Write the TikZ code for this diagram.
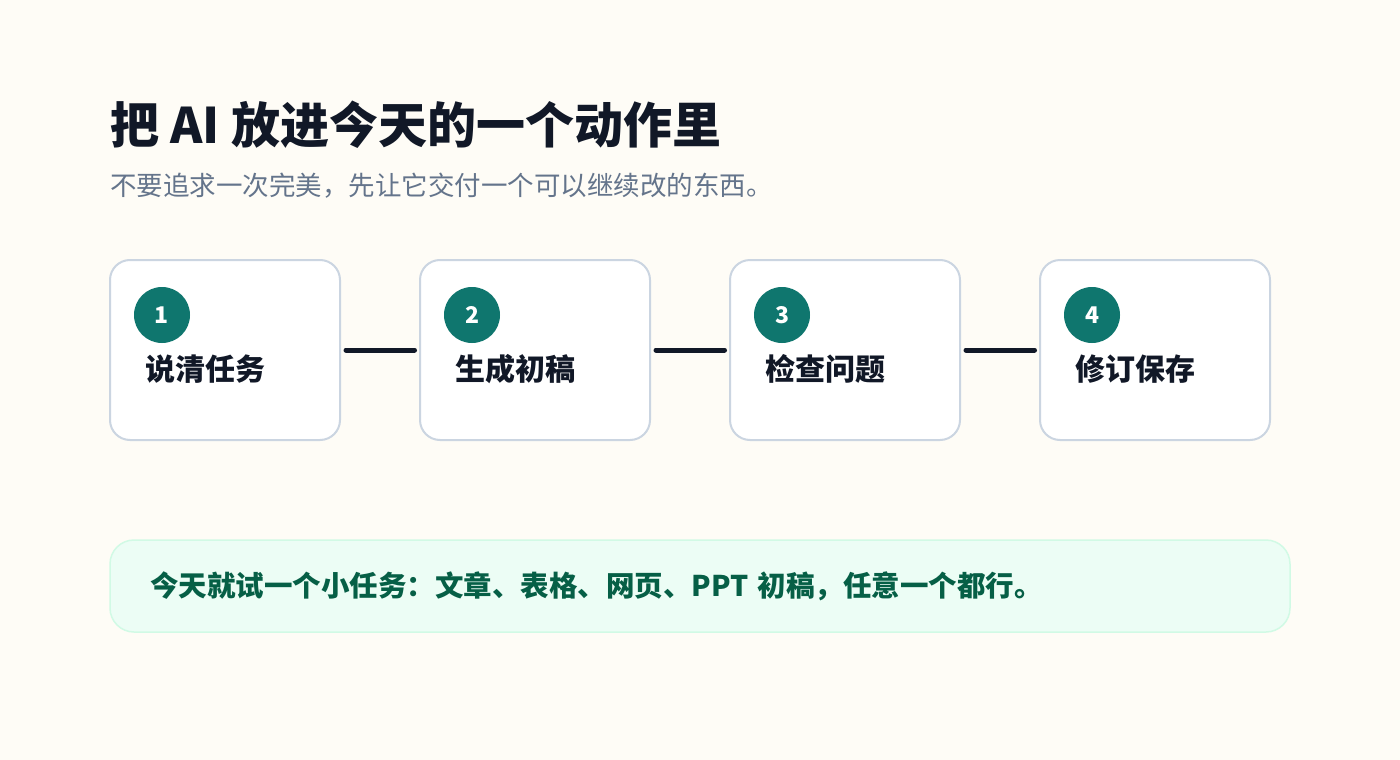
\documentclass[tikz,border=0pt]{standalone}
\usepackage{fontspec}
\usepackage{xcolor}
\usepackage{tikz}
\usetikzlibrary{positioning,calc}
\setmainfont{Noto Sans CJK SC}
\definecolor{bgC}{HTML}{FEFCF6}
\definecolor{inkD}{HTML}{111827}
\definecolor{subS}{HTML}{64748B}
\definecolor{edgeG}{HTML}{CBD5E1}
\definecolor{numT}{HTML}{0F766E}
\definecolor{tipF}{HTML}{ECFDF5}
\definecolor{tipE}{HTML}{D1FAE5}
\definecolor{tipG}{HTML}{065F46}

\begin{document}
\begin{tikzpicture}[
  x=1pt, y=-1pt,
  stepbox/.style={draw=edgeG, line width=2pt, fill=white, rounded corners=20pt, minimum width=230pt, minimum height=180pt, inner sep=0pt},
  num/.style={circle, fill=numT, text=white, minimum size=56pt, inner sep=0pt, font=\fontsize{23}{27}\selectfont\bfseries},
  lbl/.style={anchor=base west, inner sep=0pt, text=inkD, font=\fontsize{30}{35}\selectfont\bfseries},
  link/.style={draw=inkD, line width=5pt, line cap=round, shorten <=5pt, shorten >=4.5pt},
  title/.style={anchor=base west, inner sep=0pt, text=inkD, font=\fontsize{49}{57}\selectfont\bfseries},
  sub/.style={anchor=base west, inner sep=0pt, text=subS, font=\fontsize{26.5}{31}\selectfont},
  tip/.style={draw=tipE, line width=1.5pt, fill=tipF, rounded corners=24pt, text width=1100pt, inner xsep=40pt, inner ysep=0pt, minimum height=92pt, align=left, text=tipG, font=\fontsize{28.5}{33}\selectfont\bfseries}
]
\fill[bgC] (0,0) rectangle (1400,760);
\node[title] (head) at (110,143) {把 AI 放进今天的一个动作里};
\node[sub] (subhead) at (110,195) {不要追求一次完美，先让它交付一个可以继续改的东西。};
\node[stepbox] (s1) at (225,350) {};
\node[stepbox] (s2) at (535,350) {};
\node[stepbox] (s3) at (845,350) {};
\node[stepbox] (s4) at (1155,350) {};
\node[num] (n1) at (162,315) {1};
\node[num] (n2) at (472,315) {2};
\node[num] (n3) at (782,315) {3};
\node[num] (n4) at (1092,315) {4};
\node[lbl] (l1) at (145,380) {说清任务};
\node[lbl] (l2) at (455,380) {生成初稿};
\node[lbl] (l3) at (765,380) {检查问题};
\node[lbl] (l4) at (1075,380) {修订保存};
\draw[link] (s1.east) -- (s2.west);
\draw[link] (s2.east) -- (s3.west);
\draw[link] (s3.east) -- (s4.west);
\node[tip] (today) at (700,586) {今天就试一个小任务：文章、表格、网页、PPT 初稿，任意一个都行。};
\end{tikzpicture}
\end{document}
